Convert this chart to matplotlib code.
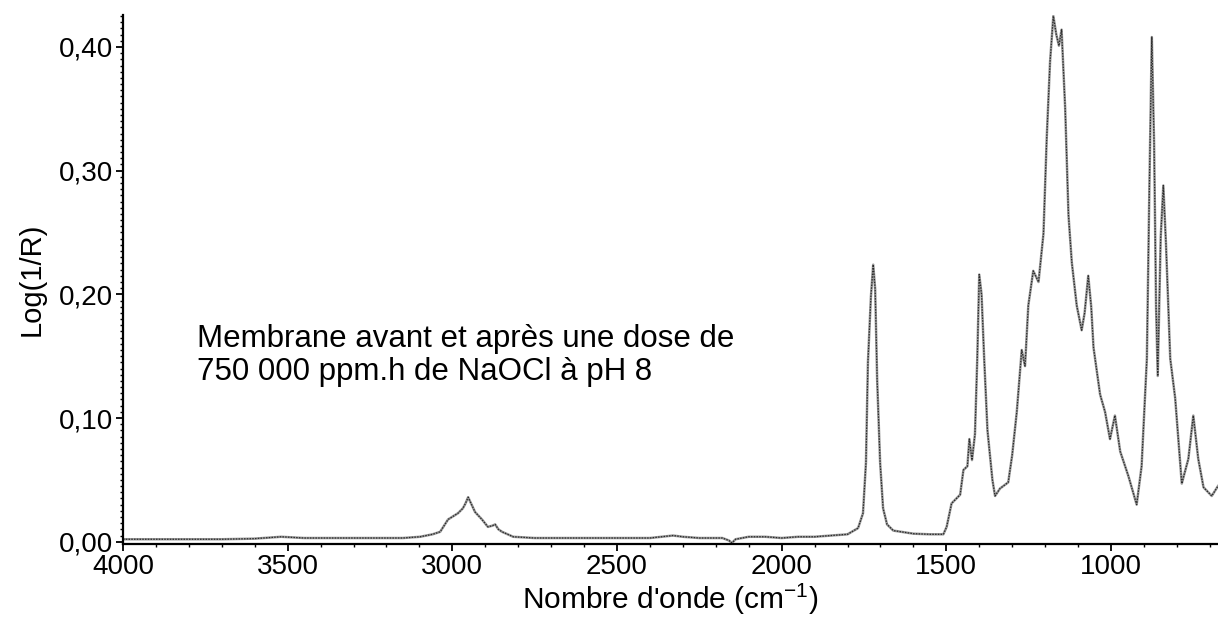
import matplotlib
matplotlib.use("Agg")
import matplotlib.pyplot as plt
from matplotlib.ticker import MultipleLocator, FuncFormatter

plt.rcParams['font.family'] = ['Liberation Sans', 'DejaVu Sans']
plt.rcParams['mathtext.default'] = 'regular'

# Wavenumber (cm-1) and Log(1/R)
wavenumber = [4000, 3900, 3800, 3700, 3600, 3520, 3450, 3350, 3250, 3150,
              3098, 3060, 3037, 3013, 2995, 2983, 2968, 2960, 2952, 2945,
              2931, 2910, 2892, 2878, 2870, 2860, 2849, 2815, 2750, 2612,
              2500, 2400, 2330, 2300, 2250, 2180, 2160, 2151, 2140, 2100,
              2050, 2000, 1950, 1900, 1850, 1800, 1768, 1753, 1744, 1738,
              1729, 1722, 1716, 1710, 1701, 1692, 1680, 1661, 1600, 1550,
              1509, 1499, 1484, 1458, 1448, 1436, 1430, 1422, 1413, 1406,
              1400, 1393, 1385, 1375, 1360, 1352, 1337, 1312, 1300, 1286,
              1271, 1261, 1251, 1236, 1220, 1205, 1195, 1185, 1175, 1166,
              1158, 1150, 1139, 1129, 1119, 1104, 1089, 1080, 1069, 1060,
              1053, 1033, 1018, 1003, 988, 972, 947, 922, 907, 891,
              883, 876, 869, 863, 858, 849, 841, 833, 820, 805,
              785, 765, 750, 735, 719, 694, 675]
absorbance = [0.002, 0.002, 0.002, 0.002, 0.0025, 0.004, 0.003, 0.003, 0.003, 0.003,
              0.004, 0.006, 0.008, 0.018, 0.021, 0.023, 0.027, 0.031, 0.036, 0.032,
              0.024, 0.018, 0.012, 0.013, 0.014, 0.010, 0.008, 0.004, 0.003, 0.003,
              0.003, 0.003, 0.005, 0.004, 0.003, 0.003, 0.001, -0.001, 0.002, 0.004,
              0.004, 0.003, 0.004, 0.004, 0.005, 0.006, 0.011, 0.023, 0.064, 0.145,
              0.198, 0.224, 0.204, 0.131, 0.064, 0.027, 0.014, 0.009, 0.0065, 0.006,
              0.006, 0.012, 0.031, 0.038, 0.058, 0.061, 0.083, 0.066, 0.087, 0.148,
              0.216, 0.200, 0.148, 0.090, 0.050, 0.037, 0.043, 0.048, 0.070, 0.105,
              0.155, 0.142, 0.191, 0.219, 0.210, 0.249, 0.327, 0.388, 0.425, 0.410,
              0.401, 0.414, 0.350, 0.264, 0.226, 0.191, 0.171, 0.185, 0.215, 0.190,
              0.157, 0.119, 0.105, 0.083, 0.102, 0.073, 0.053, 0.030, 0.061, 0.148,
              0.293, 0.408, 0.321, 0.189, 0.134, 0.246, 0.288, 0.241, 0.148, 0.116,
              0.047, 0.067, 0.102, 0.067, 0.044, 0.037, 0.045]

yticks = [0.0, 0.1, 0.2, 0.3, 0.4]
xticks = [4000, 3500, 3000, 2500, 2000, 1500, 1000]
annotation = "Membrane avant et après une dose de\n750 000 ppm.h de NaOCl à pH 8"

fig = plt.figure(figsize=(12.18, 6.17), dpi=100)
ax = fig.add_axes([0.101, 0.118, 0.899, 0.858])

ax.plot(wavenumber, absorbance, color='#9a9a9a', lw=1.8, solid_joinstyle='round')
ax.plot(wavenumber, absorbance, color='#2a2a2a', lw=0.9, ls=(0, (1.2, 1.0)))

ax.set_xlim(4000, 675)
ax.set_ylim(-0.002, 0.426)

ax.set_xticks(xticks)
ax.set_yticks(yticks)
ax.xaxis.set_minor_locator(MultipleLocator(100))
ax.yaxis.set_minor_locator(MultipleLocator(0.005))
ax.yaxis.set_major_formatter(FuncFormatter(lambda v, p: f"{v:.2f}".replace('.', ',')))

for s in ['top', 'right']:
    ax.spines[s].set_visible(False)
for s in ['left', 'bottom']:
    ax.spines[s].set_linewidth(1.6)
    ax.spines[s].set_color('black')

ax.tick_params(axis='both', which='major', direction='out', length=5, width=1.3,
               labelsize=20, pad=2)
ax.tick_params(axis='both', which='minor', direction='out', length=2.5, width=1.0)

ax.set_xlabel(r"Nombre d'onde (cm$^{-1}$)", fontsize=21.5, labelpad=1)
ax.set_ylabel("Log(1/R)", fontsize=21, labelpad=10)

ax.text(0.068, 0.416, annotation, transform=ax.transAxes, fontsize=22.5,
        va='top', ha='left', linespacing=1.15)

fig.savefig("out.png", dpi=100, facecolor='white')
